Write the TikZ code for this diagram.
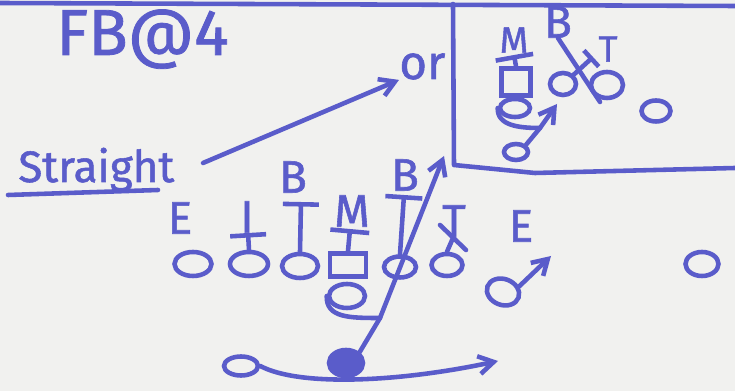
\documentclass[tikz,border=0pt]{standalone}
\usepackage{fontspec}
\setsansfont{Fira Sans}[FakeBold=1.2]
\usetikzlibrary{shapes.geometric, arrows.meta, positioning, calc}
\definecolor{tinta}{RGB}{90,92,202}
\definecolor{papel}{RGB}{241,241,239}
\tikzset{
  jg/.style = {ellipse, draw=tinta, line width=2.6pt, inner sep=0pt,
    minimum width=0.74cm, minimum height=0.48cm},
  jgq/.style = {rectangle, draw=tinta, line width=2.6pt, inner sep=0pt,
    minimum width=0.72cm, minimum height=0.46cm},
  jgc/.style = {jg, fill=tinta},
  letra/.style = {text=tinta, font=\sffamily\fontsize{26}{26}\selectfont,
    inner sep=0pt},
  trc/.style = {draw=tinta, line width=2.6pt, line cap=round, line join=round},
  seta/.style = {trc, -{Straight Barb[length=3mm, width=3.6mm]}},
  blq/.style = {trc, -{Bar[width=#1]}},
  blq/.default = 0.72cm
}

\begin{document}
\begin{tikzpicture}[x=0.02cm, y=-0.02cm]
  \useasboundingbox (0,0) rectangle (735,391);
  \fill [papel] (0,0) rectangle (735,391);
  \draw [trc] (0,3) -- (735,6);
  \draw [trc] (453,4) -- (454,165) -- (535,173) -- (735,168);
  % textos
  \node [letra, font=\sffamily\fontsize{37}{37}\selectfont, anchor=base west] (tit) at (56,55) {FB@4};
  \node [letra, font=\sffamily\fontsize{25}{25}\selectfont, anchor=base west] (str) at (18,182) {Straight};
  \coordinate (ul1) at (8,195);
  \coordinate (ul2) at (158,190);
  \draw [trc] (ul1) -- (ul2);
  \node [letra, font=\sffamily\fontsize{27}{27}\selectfont, anchor=base west] (or) at (399,79) {or};
  \coordinate (orS) at (203,163);
  \draw [seta] (orS) -- (or.south west);
  % defesa
  \node [letra] (dE1) at (180,218) {E};
  \node [letra] (dI) at (247,217) {I};
  \node [letra] (dB1) at (293,177) {B};
  \node [letra] (dM) at (352,211) {M};
  \node [letra] (dB2) at (405,175) {B};
  \node [letra] (dT) at (454,221) {T};
  \node [letra] (dE2) at (521,226) {E};
  % ataque
  \node [jg] (ol1) at (193,264) {};
  \node [jg, minimum width=0.76cm] (ol2) at (249,264) {};
  \node [jg, minimum width=0.72cm] (ol3) at (300,266) {};
  \node [jgq] (cn) at (348,265) {};
  \node [jg, minimum width=0.64cm, minimum height=0.42cm] (ol4) at (400,267) {};
  \node [jg, minimum width=0.62cm, minimum height=0.44cm] (ol5) at (447,265) {};
  \node [jg, minimum width=0.66cm, minimum height=0.52cm, rotate=-20] (wb) at (503,292) {};
  \node [jg, minimum width=0.66cm] (wr) at (702,264) {};
  \node [jg, minimum width=0.72cm] (qb) at (347,296) {};
  \node [jgc, minimum width=0.68cm, minimum height=0.52cm] (fb) at (346,363) {};
  \node [jg, minimum width=0.68cm, minimum height=0.38cm] (hb) at (241,366) {};
  % bloqueios
  \coordinate (b2) at (248,233);
  \coordinate (b3) at (301,202);
  \coordinate (b4) at (350,229);
  \coordinate (b5) at (404,195);
  \coordinate (b6) at (453,238);
  \coordinate (b6a) at (440,225);
  \coordinate (b6b) at (466,250);
  \draw [blq] (ol2.north) -- (b2);
  \draw [blq] (ol3.north) -- (b3);
  \draw [blq=0.78cm] (cn.north) -- (b4);
  \draw [blq=0.74cm] (ol4.north) -- (b5);
  \draw [trc] (ol5.north) -- (b6);
  \draw [trc] (b6a) -- (b6b);
  % rotas
  \coordinate (jn) at (380,318);
  \coordinate (pfb) at (444,156);
  \draw [seta] (fb.north east) -- (jn) -- (pfb);
  \draw [trc] (qb.west) .. controls (326,318) and (350,318) .. (jn);
  \coordinate (pwb) at (551,256);
  \draw [seta] (wb.north east) -- (pwb);
  \coordinate (phb) at (498,361);
  \draw [seta] (hb.east) .. controls (300,387) and (400,382) .. (phb);
  % quadro
  \node [letra, font=\sffamily\fontsize{21}{21}\selectfont] (bM) at (514,40) {M};
  \node [letra] (bB) at (558,22) {B};
  \node [letra, font=\sffamily\fontsize{21}{21}\selectfont] (bT) at (608,49) {T};
  \node [jgq, minimum width=0.58cm, minimum height=0.54cm] (bcn) at (516,82) {};
  \node [jg, minimum width=0.6cm, minimum height=0.36cm] (bqb) at (515,108) {};
  \node [jg, minimum width=0.48cm, minimum height=0.32cm] (bfb) at (516,152) {};
  \node [jg, minimum width=0.52cm, minimum height=0.44cm] (bl) at (563,84) {};
  \node [jg, minimum width=0.64cm, minimum height=0.52cm] (br) at (607,85) {};
  \node [jg, minimum width=0.58cm, minimum height=0.42cm] (bw) at (656,111) {};
  \coordinate (bbM) at (514,55);
  \coordinate (bbk) at (593,57);
  \coordinate (bBf) at (600,102);
  \draw [blq=0.76cm] (bcn.north) -- (bbM);
  \draw [blq=0.44cm] (bl.north east) -- (bbk);
  \draw [trc] (bB.south) -- (bBf);
  \coordinate (bjn) at (540,128);
  \coordinate (pbfb) at (557,104);
  \draw [seta] (bfb.north east) -- (bjn) -- (pbfb);
  \draw [trc] (bqb.west) .. controls (497,126) and (520,128) .. (bjn);
\end{tikzpicture}
\end{document}
